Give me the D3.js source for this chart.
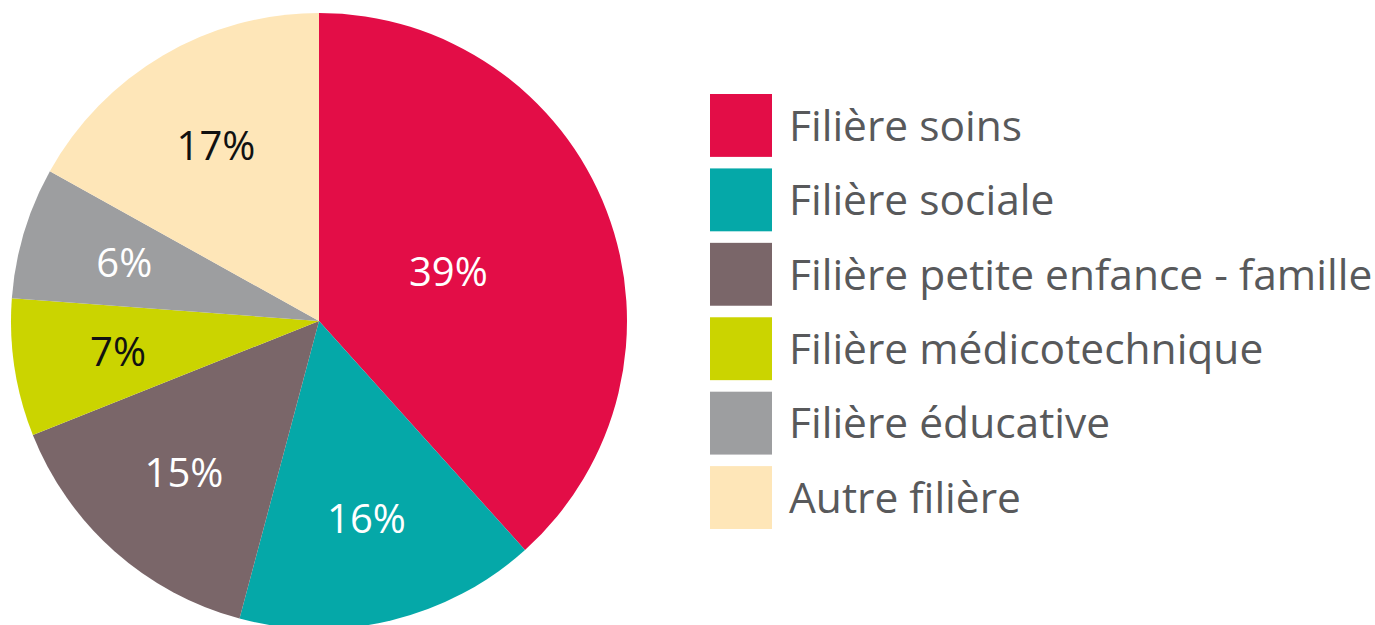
<!DOCTYPE html>
<html>
<head>
<meta charset="utf-8">
<script src="https://cdn.jsdelivr.net/npm/d3@7"></script>
<style>
  html, body { margin: 0; padding: 0; background: #fff; }
  svg { display: block; }
</style>
</head>
<body>
<div id="chart"></div>
<script>
// Data
const categories = ["Filière soins", "Filière sociale", "Filière petite enfance - famille",
                    "Filière médicotechnique", "Filière éducative", "Autre filière"];
// slice sizes
const shares = [38.3, 15.8, 14.8, 7.2, 6.9, 16.9];
// percentages printed on the slices
const percentLabels = ["39%", "16%", "15%", "7%", "6%", "17%"];
const colors = ["#e30d47", "#05a8a8", "#7a6669", "#cbd400", "#9d9ea0", "#fee6b8"];
const labelColors = ["#fff", "#fff", "#fff", "#111", "#fff", "#111"];

const W = 1375, H = 625;
const cx = 319, cy = 321, R = 308;

const svg = d3.select("#chart").append("svg")
    .attr("width", W).attr("height", H);

const data = categories.map((c, i) => ({
    name: c, value: shares[i], label: percentLabels[i], color: colors[i], lc: labelColors[i]
}));

const pie = d3.pie().value(d => d.value).sort(null);
const arc = d3.arc().innerRadius(0).outerRadius(R);

const g = svg.append("g").attr("transform", `translate(${cx},${cy})`);
const arcs = pie(data);

g.selectAll("path").data(arcs).join("path")
    .attr("d", arc)
    .attr("fill", d => d.data.color);

// big slice label sits closer to the centre
const labelArc = r => d3.arc().innerRadius(r).outerRadius(r);
g.selectAll("text").data(arcs).join("text")
    .attr("transform", d => {
        const r = d.data.value > 30 ? 0.45 * R : 0.66 * R;
        const [x, y] = labelArc(r).centroid(d);
        return `translate(${x},${y})`;
    })
    .attr("text-anchor", "middle")
    .attr("dy", "0.36em")
    .style("font-family", "'Open Sans', sans-serif")
    .style("font-size", "40px")
    .style("fill", d => d.data.lc)
    .text(d => d.label ?? d.data.label);

// Legend
const y = d3.scaleBand().domain(categories).range([94, 529]).paddingInner(0.155);

const leg = svg.append("g");
const item = leg.selectAll("g").data(data).join("g")
    .attr("transform", d => `translate(710,${y(d.name)})`);

item.append("rect")
    .attr("width", 62).attr("height", y.bandwidth())
    .attr("fill", d => d.color);

item.append("text")
    .attr("x", 79)
    .attr("y", y.bandwidth() / 2)
    .attr("dy", "0.36em")
    .style("font-family", "'Open Sans', sans-serif")
    .style("font-size", "42.5px")
    .style("fill", "#58595b")
    .text(d => d.name);
</script>
</body>
</html>
